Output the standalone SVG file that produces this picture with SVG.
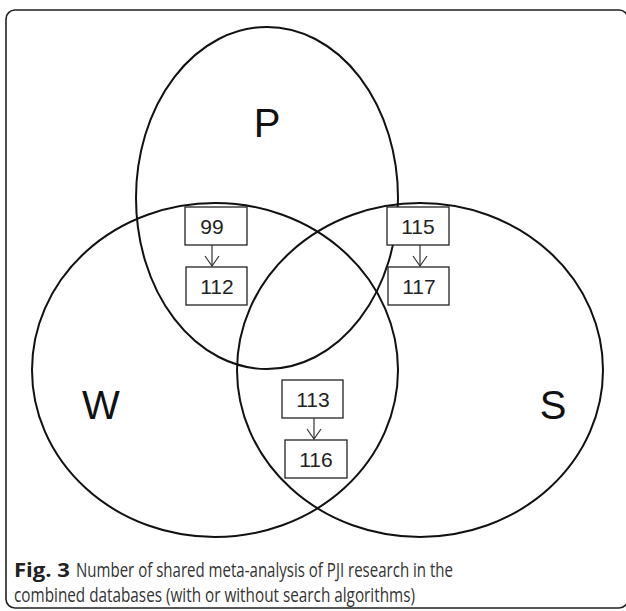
<svg xmlns="http://www.w3.org/2000/svg" width="626" height="611" viewBox="0 0 626 611">
  <defs>
    <style>
      .set { fill: none; stroke: #111; stroke-width: 2; }
      .box rect { fill: #fff; stroke: #222; stroke-width: 1.3; }
      .box text { font-family: "Liberation Sans", Arial, sans-serif; font-size: 21px; fill: #222; text-anchor: middle; }
      .big { font-family: "Liberation Sans", Arial, sans-serif; font-size: 40px; fill: #111; text-anchor: middle; }
      .link { stroke: #333; stroke-width: 1.2; fill: none; }
      .cap { font-family: "Open Sans", "Noto Sans", sans-serif; font-size: 20px; fill: #333; }
      .cap.lead { font-weight: bold; fill: #222; }
    </style>
    <!-- open V arrowhead, drawn along +x so orient="auto" points it down the line -->
    <marker id="vee" viewBox="0 0 12 16" refX="11" refY="8" markerWidth="12" markerHeight="16" markerUnits="userSpaceOnUse" orient="auto">
      <path d="M1,1 L11,8 L1,15" fill="none" stroke="#333" stroke-width="1.2"/>
    </marker>
  </defs>

  <!-- figure frame -->
  <rect x="6" y="10" width="622" height="598" rx="9" ry="9" fill="#fff" stroke="#222" stroke-width="1.6"/>

  <!-- set outlines -->
  <g id="P">
    <ellipse class="set" cx="267" cy="198" rx="131" ry="171"/>
    <text class="big" x="267" y="137">P</text>
  </g>
  <g id="W">
    <ellipse class="set" cx="215" cy="370" rx="183" ry="167"/>
    <text class="big" x="101" y="419">W</text>
  </g>
  <g id="S">
    <ellipse class="set" cx="420" cy="370" rx="183" ry="167"/>
    <text class="big" x="553" y="419">S</text>
  </g>

  <!-- count boxes -->
  <g id="n99" class="box">
    <rect x="185" y="207" width="62" height="38"/>
    <text x="212" y="234">99</text>
  </g>
  <g id="n112" class="box">
    <rect x="186" y="267" width="61" height="38"/>
    <text x="217" y="294">112</text>
  </g>
  <g id="n115" class="box">
    <rect x="387" y="207" width="62" height="38"/>
    <text x="418" y="234">115</text>
  </g>
  <g id="n117" class="box">
    <rect x="388" y="267" width="61" height="38"/>
    <text x="419" y="294">117</text>
  </g>
  <g id="n113" class="box">
    <rect x="282" y="380" width="61" height="38"/>
    <text x="313" y="407">113</text>
  </g>
  <g id="n116" class="box">
    <rect x="285" y="440" width="62" height="38"/>
    <text x="316" y="467">116</text>
  </g>

  <!-- connectors -->
  <g id="connectors">
    <line class="link" x1="212" y1="245" x2="212" y2="266" marker-end="url(#vee)"/>
    <line class="link" x1="420" y1="245" x2="420" y2="266" marker-end="url(#vee)"/>
    <line class="link" x1="314" y1="418" x2="314" y2="439" marker-end="url(#vee)"/>
  </g>

  <!-- caption -->
  <text class="cap lead" x="14" y="577" textLength="56" lengthAdjust="spacingAndGlyphs">Fig. 3</text>
  <text class="cap" x="76" y="577" textLength="377" lengthAdjust="spacingAndGlyphs">Number of shared meta-analysis of PJI research in the</text>
  <text class="cap" x="14" y="602" textLength="401" lengthAdjust="spacingAndGlyphs">combined databases (with or without search algorithms)</text>
</svg>
